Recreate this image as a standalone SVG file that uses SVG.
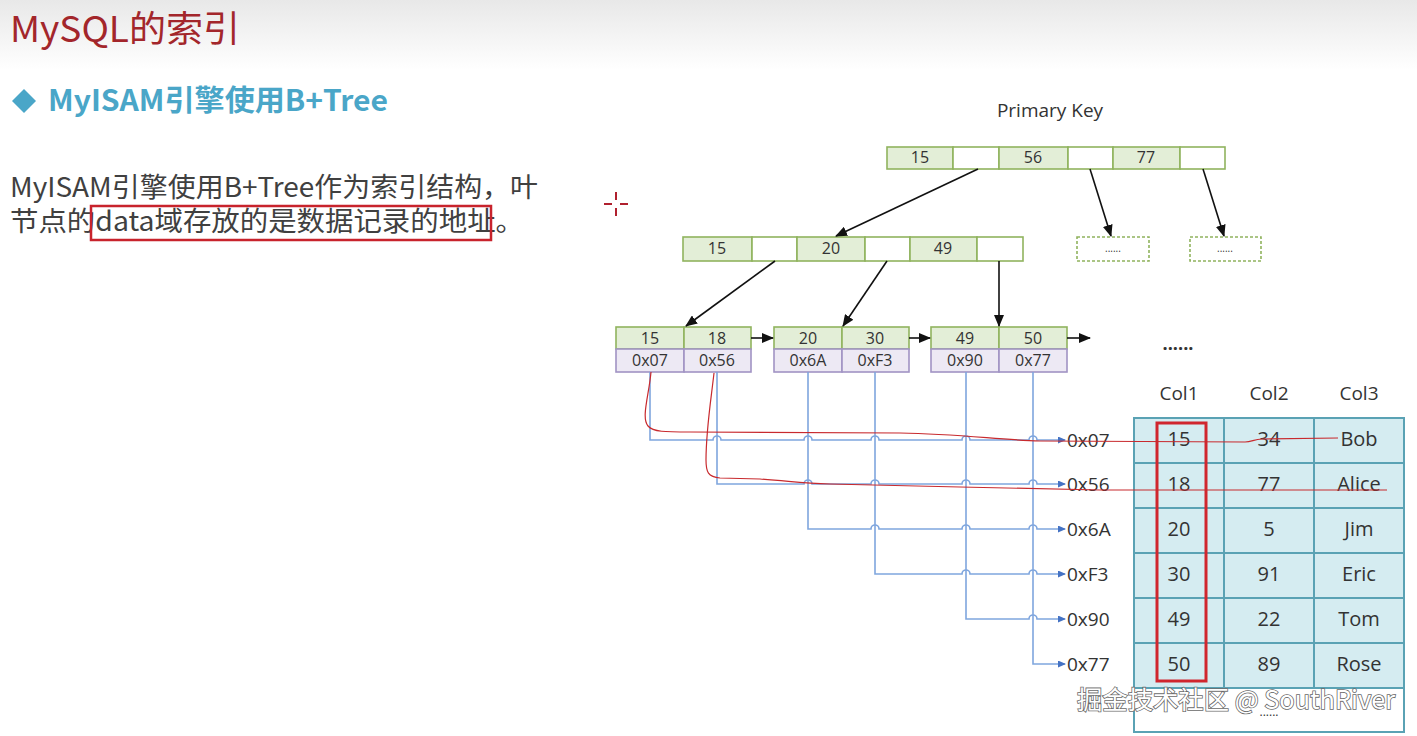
<svg xmlns="http://www.w3.org/2000/svg" width="1417" height="736" viewBox="0 0 1417 736">
<style>
.t{font-family:"Open Sans","Liberation Sans",sans-serif;fill:#333;text-anchor:middle}
.n{font-size:16px}
.g{fill:#E3EED7;stroke:#90B35E;stroke-width:1.6}
.e{fill:#FFFFFF;stroke:#90B35E;stroke-width:1.6}
.p{fill:#EDE9F4;stroke:#A193C4;stroke-width:1.6}
.blk{fill:none;stroke:#111;stroke-width:1.6}
.blu{fill:none;stroke:#7FA6DE;stroke-width:1.6}
.red{fill:none;stroke:#C82A2E;stroke-width:1.2}
.cell{fill:#D5ECF1;stroke:#5AA2B4;stroke-width:2}
.cjk{font-family:"Noto Sans CJK SC","Noto Sans",sans-serif}
</style>
<defs>
<linearGradient id="bg" x1="0" y1="0" x2="0" y2="1">
<stop offset="0" stop-color="#e8e8e8"/>
<stop offset="1" stop-color="#ffffff"/>
</linearGradient>
<marker id="ab" markerUnits="userSpaceOnUse" markerWidth="12" markerHeight="10" refX="11" refY="5" orient="auto">
<path d="M0,0 L12,5 L0,10 z" fill="#111"/>
</marker>
<marker id="abl" markerUnits="userSpaceOnUse" markerWidth="8" markerHeight="7" refX="7" refY="3.5" orient="auto">
<path d="M0,0 L8,3.5 L0,7 z" fill="#4472C4"/>
</marker>
</defs>
<rect x="0" y="0" width="1417" height="736" fill="#fff"/>
<rect x="0" y="0" width="1417" height="70" fill="url(#bg)"/>

<g id="title">
<text x="10" y="42" class="cjk" font-size="36" fill="#A3262B" textLength="230" lengthAdjust="spacingAndGlyphs">MySQL的索引</text>
</g>
<g id="subtitle">
<path d="M24,89 L36,101 L24,113 L12,101 z" fill="#4AA6C8"/>
<text x="48" y="111" class="cjk" font-size="29" font-weight="bold" fill="#4AA6C8" textLength="340" lengthAdjust="spacingAndGlyphs">MyISAM引擎使用B+Tree</text>
</g>
<g id="body">
<text x="10" y="197" class="cjk" font-size="27" fill="#404040" textLength="528" lengthAdjust="spacingAndGlyphs">MyISAM引擎使用B+Tree作为索引结构，叶</text>
<text x="10" y="231" class="cjk" font-size="27" fill="#404040" textLength="514" lengthAdjust="spacingAndGlyphs">节点的data域存放的是数据记录的地址。</text>
<rect x="91" y="206" width="400" height="34" fill="none" stroke="#C8232C" stroke-width="2.5"/>
</g>
<g id="crosshair" stroke="#B0202E" stroke-width="2">
<line x1="604" y1="204" x2="612" y2="204"/><line x1="620" y1="204" x2="628" y2="204"/>
<line x1="616" y1="192" x2="616" y2="200"/><line x1="616" y1="208" x2="616" y2="216"/>
</g>

<text id="pk-label" x="1050" y="117" class="t" font-size="19">Primary Key</text>

<g id="root">
<rect class="g" x="887" y="147" width="66" height="22"/>
<rect class="e" x="953" y="147" width="46" height="22"/>
<rect class="g" x="999" y="147" width="69" height="22"/>
<rect class="e" x="1068" y="147" width="45" height="22"/>
<rect class="g" x="1113" y="147" width="67" height="22"/>
<rect class="e" x="1180" y="147" width="45" height="22"/>
<text class="t n" x="920" y="163">15</text>
<text class="t n" x="1033" y="163">56</text>
<text class="t n" x="1146" y="163">77</text>
</g>

<g id="inner">
<rect class="g" x="683" y="237" width="69" height="24"/>
<rect class="e" x="752" y="237" width="45" height="24"/>
<rect class="g" x="797" y="237" width="68" height="24"/>
<rect class="e" x="865" y="237" width="45" height="24"/>
<rect class="g" x="910" y="237" width="67" height="24"/>
<rect class="e" x="977" y="237" width="46" height="24"/>
<text class="t n" x="717" y="254">15</text>
<text class="t n" x="831" y="254">20</text>
<text class="t n" x="943" y="254">49</text>
</g>

<g id="more1">
<rect x="1077" y="237" width="72" height="24" fill="#fff" stroke="#90B35E" stroke-width="1.6" stroke-dasharray="3,2"/>
<text class="t" x="1113" y="252" font-size="10">......</text>
</g>
<g id="more2">
<rect x="1190" y="237" width="71" height="24" fill="#fff" stroke="#90B35E" stroke-width="1.6" stroke-dasharray="3,2"/>
<text class="t" x="1225" y="252" font-size="10">......</text>
</g>

<g id="leaf1">
<rect class="g" x="616" y="327" width="68" height="22"/>
<rect class="g" x="684" y="327" width="67" height="22"/>
<rect class="p" x="616" y="349" width="68" height="23"/>
<rect class="p" x="684" y="349" width="67" height="23"/>
<text class="t n" x="650" y="344">15</text>
<text class="t n" x="717" y="344">18</text>
<text class="t n" x="650" y="366">0x07</text>
<text class="t n" x="717" y="366">0x56</text>
</g>
<g id="leaf2">
<rect class="g" x="774" y="327" width="68" height="22"/>
<rect class="g" x="842" y="327" width="67" height="22"/>
<rect class="p" x="774" y="349" width="68" height="23"/>
<rect class="p" x="842" y="349" width="67" height="23"/>
<text class="t n" x="808" y="344">20</text>
<text class="t n" x="875" y="344">30</text>
<text class="t n" x="808" y="366">0x6A</text>
<text class="t n" x="875" y="366">0xF3</text>
</g>
<g id="leaf3">
<rect class="g" x="931" y="327" width="68" height="22"/>
<rect class="g" x="999" y="327" width="68" height="22"/>
<rect class="p" x="931" y="349" width="68" height="23"/>
<rect class="p" x="999" y="349" width="68" height="23"/>
<text class="t n" x="965" y="344">49</text>
<text class="t n" x="1033" y="344">50</text>
<text class="t n" x="965" y="366">0x90</text>
<text class="t n" x="1033" y="366">0x77</text>
</g>
<text id="leaf-more" class="t" x="1178" y="350" font-size="18" font-weight="bold" fill="#222">......</text>

<g id="connectors">
<line class="blk" x1="978" y1="169" x2="836" y2="236" marker-end="url(#ab)"/>
<line class="blk" x1="1090" y1="169" x2="1111" y2="236" marker-end="url(#ab)"/>
<line class="blk" x1="1203" y1="169" x2="1224" y2="236" marker-end="url(#ab)"/>
<line class="blk" x1="775" y1="261" x2="686" y2="326" marker-end="url(#ab)"/>
<line class="blk" x1="887" y1="261" x2="843" y2="326" marker-end="url(#ab)"/>
<line class="blk" x1="999" y1="261" x2="999" y2="326" marker-end="url(#ab)"/>
<line class="blk" x1="751" y1="338" x2="773" y2="338" marker-end="url(#ab)"/>
<line class="blk" x1="909" y1="338" x2="930" y2="338" marker-end="url(#ab)"/>
<line class="blk" x1="1067" y1="338" x2="1090" y2="338" marker-end="url(#ab)"/>
<path class="blu" d="M650,372 V440 H713 a4,4 0 0 1 8,0 H804 a4,4 0 0 1 8,0 H871 a4,4 0 0 1 8,0 H962 a4,4 0 0 1 8,0 H1029 a4,4 0 0 1 8,0 H1065" marker-end="url(#abl)"/>
<path class="blu" d="M717,372 V484 H804 a4,4 0 0 1 8,0 H871 a4,4 0 0 1 8,0 H962 a4,4 0 0 1 8,0 H1029 a4,4 0 0 1 8,0 H1065" marker-end="url(#abl)"/>
<path class="blu" d="M808,372 V529 H871 a4,4 0 0 1 8,0 H962 a4,4 0 0 1 8,0 H1029 a4,4 0 0 1 8,0 H1065" marker-end="url(#abl)"/>
<path class="blu" d="M875,372 V574 H962 a4,4 0 0 1 8,0 H1029 a4,4 0 0 1 8,0 H1065" marker-end="url(#abl)"/>
<path class="blu" d="M966,372 V619 H1029 a4,4 0 0 1 8,0 H1065" marker-end="url(#abl)"/>
<path class="blu" d="M1033,372 V664 H1065" marker-end="url(#abl)"/>
</g>

<g id="addresses" font-family="Open Sans, Liberation Sans, sans-serif" font-size="19" fill="#333">
<text x="1067" y="447">0x07</text>
<text x="1067" y="491">0x56</text>
<text x="1067" y="536">0x6A</text>
<text x="1067" y="581">0xF3</text>
<text x="1067" y="626">0x90</text>
<text x="1067" y="671">0x77</text>
</g>

<g id="table">
<text class="t" x="1179" y="400" font-size="19">Col1</text>
<text class="t" x="1269" y="400" font-size="19">Col2</text>
<text class="t" x="1359" y="400" font-size="19">Col3</text>
<g>
<rect class="cell" x="1134" y="418" width="90" height="45"/><rect class="cell" x="1224" y="418" width="90" height="45"/><rect class="cell" x="1314" y="418" width="90" height="45"/>
<rect class="cell" x="1134" y="463" width="90" height="45"/><rect class="cell" x="1224" y="463" width="90" height="45"/><rect class="cell" x="1314" y="463" width="90" height="45"/>
<rect class="cell" x="1134" y="508" width="90" height="45"/><rect class="cell" x="1224" y="508" width="90" height="45"/><rect class="cell" x="1314" y="508" width="90" height="45"/>
<rect class="cell" x="1134" y="553" width="90" height="45"/><rect class="cell" x="1224" y="553" width="90" height="45"/><rect class="cell" x="1314" y="553" width="90" height="45"/>
<rect class="cell" x="1134" y="598" width="90" height="45"/><rect class="cell" x="1224" y="598" width="90" height="45"/><rect class="cell" x="1314" y="598" width="90" height="45"/>
<rect class="cell" x="1134" y="643" width="90" height="45"/><rect class="cell" x="1224" y="643" width="90" height="45"/><rect class="cell" x="1314" y="643" width="90" height="45"/>
<rect x="1134" y="688" width="270" height="44" fill="#fff" stroke="#5AA2B4" stroke-width="2"/>
</g>
<g font-size="20">
<text class="t" x="1179" y="446">15</text><text class="t" x="1269" y="446">34</text><text class="t" x="1359" y="446">Bob</text>
<text class="t" x="1179" y="491">18</text><text class="t" x="1269" y="491">77</text><text class="t" x="1359" y="491">Alice</text>
<text class="t" x="1179" y="536">20</text><text class="t" x="1269" y="536">5</text><text class="t" x="1359" y="536">Jim</text>
<text class="t" x="1179" y="581">30</text><text class="t" x="1269" y="581">91</text><text class="t" x="1359" y="581">Eric</text>
<text class="t" x="1179" y="626">49</text><text class="t" x="1269" y="626">22</text><text class="t" x="1359" y="626">Tom</text>
<text class="t" x="1179" y="671">50</text><text class="t" x="1269" y="671">89</text><text class="t" x="1359" y="671">Rose</text>
</g>
<text class="t" x="1269" y="716" font-size="12">......</text>
<rect x="1157" y="423" width="49" height="258" fill="none" stroke="#D0262E" stroke-width="3"/>
</g>

<g id="annotations">
<path class="red" d="M651,372 C649,395 641,418 648,426 C653,432 665,432 690,432 L900,433 C960,434 1000,440 1040,441 L1245,442 C1252,442 1254,439 1262,439 L1338,438"/>
<path class="red" d="M714,373 C711,400 706,430 706,460 C706,472 708,477 720,478 L760,479 C790,481 800,483 830,484 L960,487 L1100,490 L1387,490"/>
</g>

<text id="watermark" x="1077" y="709" class="cjk" font-size="25" fill="#ffffff" stroke="#6a6a6a" stroke-width="1.6" paint-order="stroke" textLength="318" lengthAdjust="spacingAndGlyphs">掘金技术社区 @ SouthRiver</text>
</svg>
